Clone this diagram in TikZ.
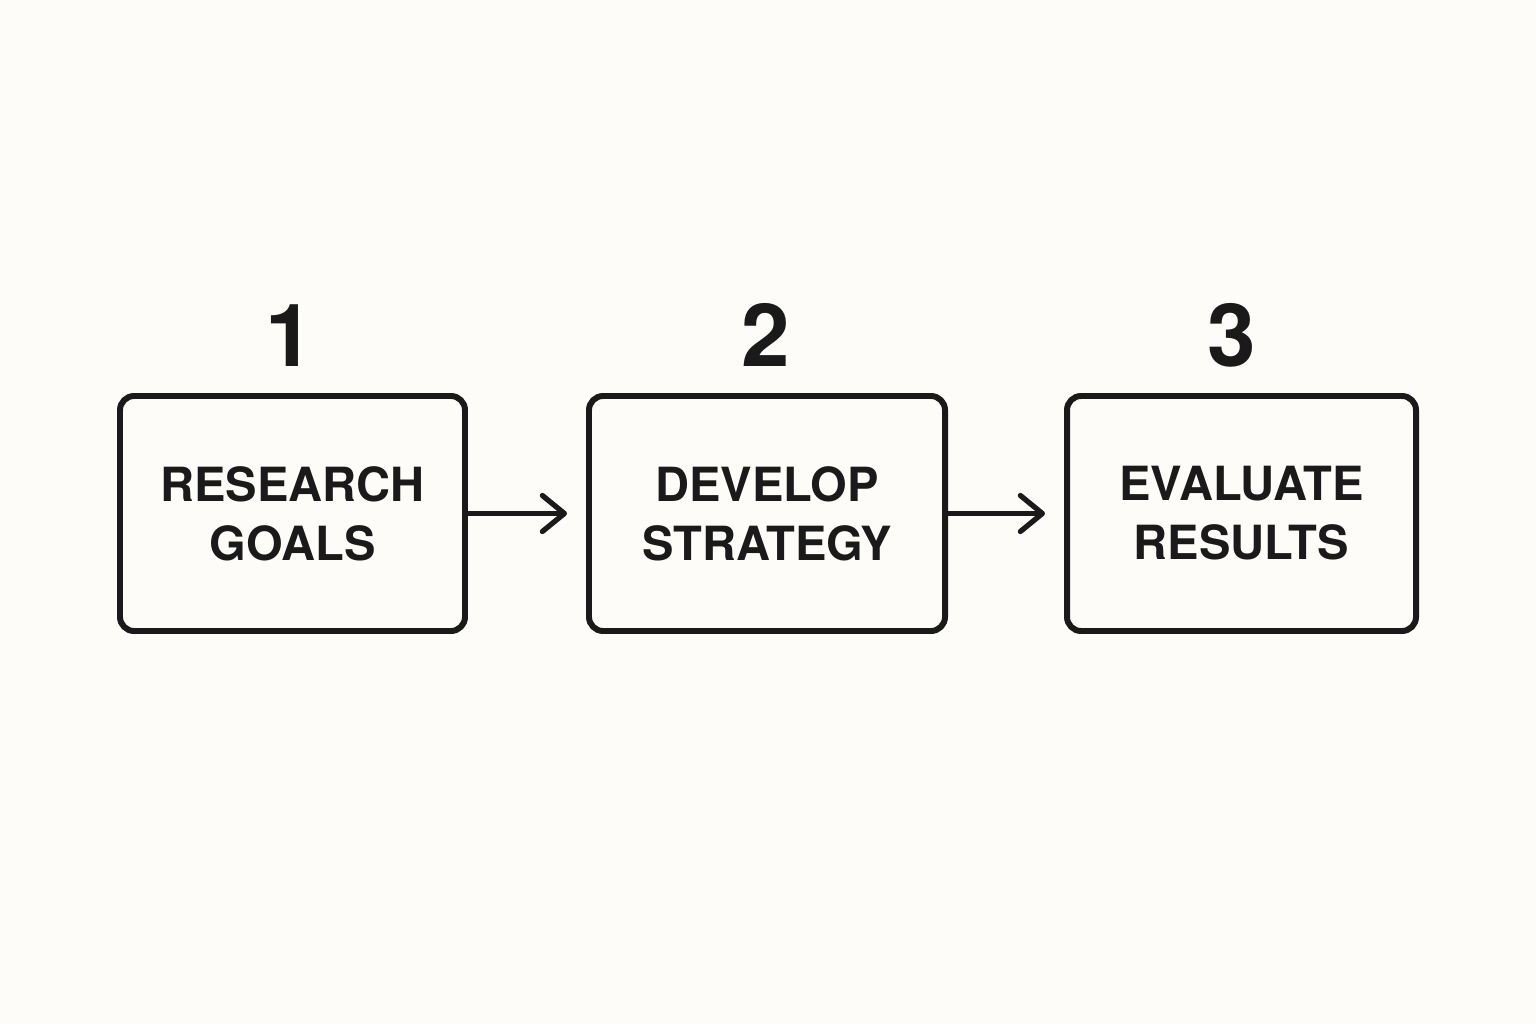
\documentclass[tikz,border=0pt]{standalone}
\usepackage{fontspec}
\setmainfont{TeX Gyre Heros}
\usepackage{tikz}
\usetikzlibrary{arrows.meta}
\definecolor{paper}{HTML}{FDFCF8}
\definecolor{ink}{HTML}{1A1A1A}
\tikzset{
	stepbox/.style={draw=ink,line width=1.7pt,rounded corners=4pt,fill=paper,minimum height=2.35cm,align=center,font=\bfseries\fontsize{13.4pt}{16.8pt}\selectfont,text=ink},
	stepnum/.style={anchor=base,font=\bfseries\fontsize{24.8pt}{28pt}\selectfont,text=ink,inner sep=0pt},
	flow/.style={draw=ink,line width=1.5pt,shorten >=0.19cm,-{Straight Barb[length=0.22cm,width=0.36cm,line cap=round,round]}}
}
\begin{document}
	\begin{tikzpicture}
		\fill [paper] (0,0) rectangle (15.36,10.24);
		\useasboundingbox (0,0) rectangle (15.36,10.24);

		\node [stepbox,minimum width=3.45cm] (research) at (2.925,5.105) {RESEARCH\\GOALS};
		\node [stepbox,minimum width=3.56cm] (develop) at (7.67,5.105) {DEVELOP\\STRATEGY};
		\node [stepbox,minimum width=3.49cm] (evaluate) at (12.415,5.105) {EVALUATE\\RESULTS};

		\node [stepnum] (one) at (2.90,6.57) {1};
		\node [stepnum] (two) at (7.66,6.57) {2};
		\node [stepnum] (three) at (12.32,6.57) {3};

		\draw [flow] (research) -- (develop);
		\draw [flow] (develop) -- (evaluate);
	\end{tikzpicture}
\end{document}
